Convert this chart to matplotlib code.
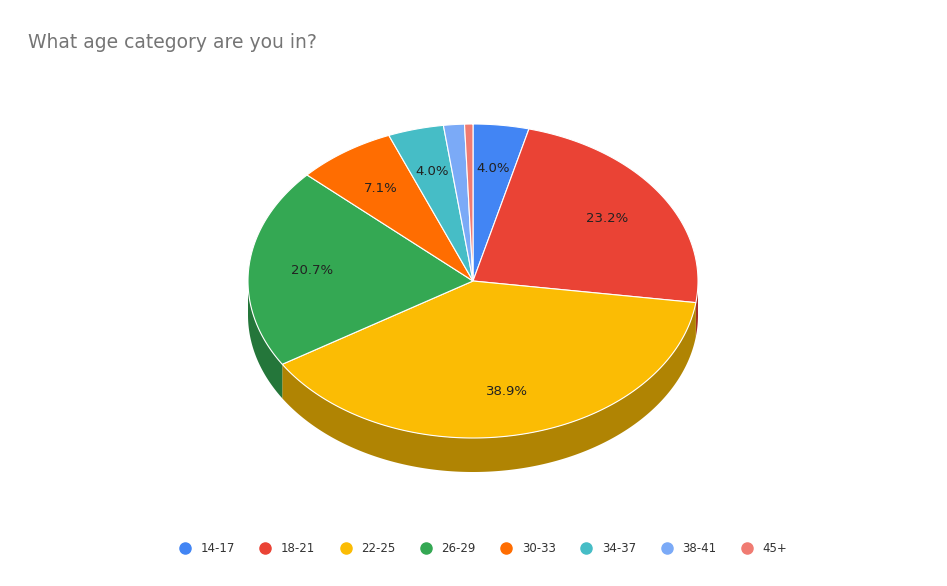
import matplotlib
matplotlib.use("Agg")
import matplotlib.pyplot as plt
from matplotlib.patches import Polygon
from matplotlib.lines import Line2D
import numpy as np

categories = ["14-17", "18-21", "22-25", "26-29", "30-33", "34-37", "38-41", "45+"]
values = [4.0, 23.2, 38.9, 20.7, 7.1, 4.0, 1.5, 0.6]
colors = ["#4285f4", "#ea4335", "#fbbc04", "#34a853", "#ff6d01", "#46bdc6", "#7baaf7", "#f07b72"]

W, H = 947, 586
fig = plt.figure(figsize=(W / 100, H / 100), dpi=100)
ax = fig.add_axes([0, 0, 1, 1])
ax.set_xlim(0, W)
ax.set_ylim(H, 0)
ax.axis("off")

cx, cy, rx, ry, depth = 473, 281, 225, 157, 34


def pt(t, dy=0):
    return cx + rx * np.cos(t), cy - ry * np.sin(t) + dy


def darker(c, f=0.7):
    r, g, b = matplotlib.colors.to_rgb(c)
    return (r * f, g * f, b * f)


total = sum(values)
bounds = []
a = np.pi / 2
for v in values:
    b = a - 2 * np.pi * v / total
    bounds.append((a, b))
    a = b

# side walls (front half only)
for (a0, a1), c in zip(bounds, colors):
    ts = np.linspace(a0, a1, 200)
    ts = ts[np.sin(ts) <= 0.001]
    if len(ts) < 2:
        continue
    top = [pt(t) for t in ts]
    bot = [pt(t, depth) for t in ts[::-1]]
    ax.add_patch(Polygon(top + bot, closed=True, facecolor=darker(c), edgecolor="none"))

# top faces
for (a0, a1), c in zip(bounds, colors):
    ts = np.linspace(a0, a1, 200)
    poly = [(cx, cy)] + [pt(t) for t in ts]
    ax.add_patch(Polygon(poly, closed=True, facecolor=c, edgecolor="white", linewidth=0.8))

# labels
for (a0, a1), v in zip(bounds, values):
    if v < 3:
        continue
    m = (a0 + a1) / 2
    x = cx + 0.72 * rx * np.cos(m)
    y = cy - 0.72 * ry * np.sin(m)
    ax.text(x, y, f"{v:.1f}%", ha="center", va="center", fontsize=9.5, color="#222222")

ax.text(28, 42, "What age category are you in?", fontsize=13.5, color="#757575", va="center")

handles = [Line2D([], [], marker="o", linestyle="none", markersize=8,
                  markerfacecolor=c, markeredgecolor=c, label=l)
           for l, c in zip(categories, colors)]
ax.legend(handles=handles, loc="center", bbox_to_anchor=(480 / W, 1 - 549 / H),
          ncol=8, frameon=False, fontsize=8.5, handletextpad=0.3, columnspacing=1.6,
          labelcolor="#333333")

fig.savefig("out.png", dpi=100, facecolor="white")
